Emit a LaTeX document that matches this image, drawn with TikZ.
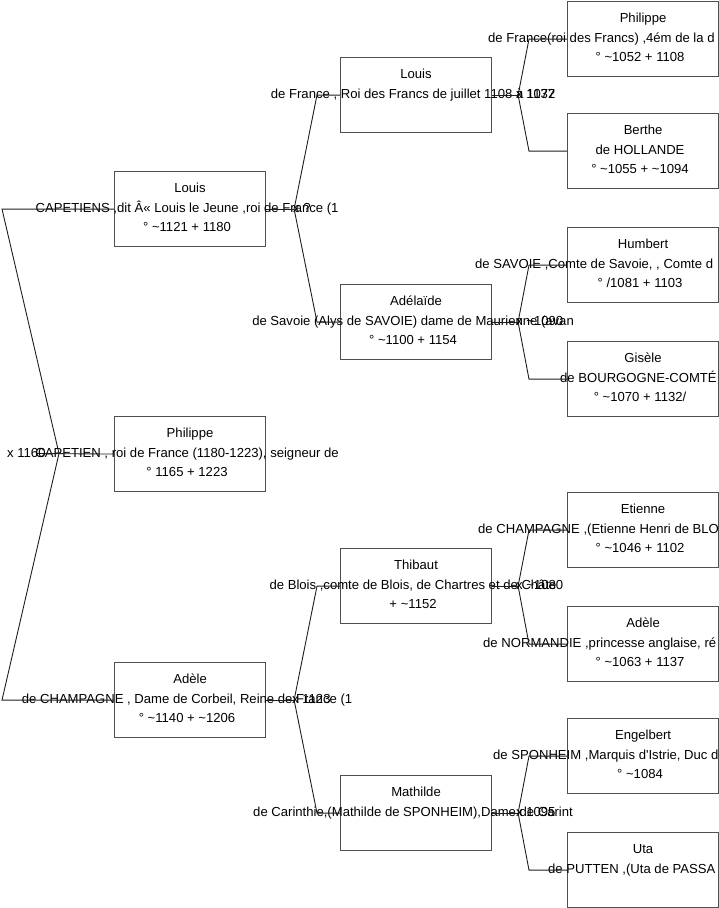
\documentclass[tikz,border=0pt]{standalone}
\usepackage{fontspec}
\setmainfont{Liberation Sans}
\usetikzlibrary{calc}
\definecolor{boxgray}{RGB}{80,80,80}
\definecolor{linegray}{RGB}{30,30,30}
\newcommand\tld{\textasciitilde}
\newcommand\pbox[4]{%
  \node[box] (#1) at (#2,#3) {};
  \node[txt] (#1-a) at ($(#1.north)+(0,21)$) {#4};
}
\newcommand\pline[3]{% name, suffix/offset, text
  \node[txt] (#1-#2) at ($(#1.north)+(-3,\csname off#2\endcsname)$) {#3};
}
\newcommand\plinew[3]{% name, x, text (middle line, left anchored)
  \coordinate (#1-bx) at (#2,0);
  \path ($(#1.north)+(0,41)$) coordinate (#1-by);
  \node[txtw] (#1-b) at (#1-by -| #1-bx) {#3};
}
\def\offb{41}
\def\offc{60}
\begin{document}
\begin{tikzpicture}[x=1pt,y=-1pt,
  box/.style={draw=boxgray, line width=1.1pt, minimum width=151pt, minimum height=75pt, inner sep=0pt, anchor=north west},
  txt/.style={inner sep=0pt, anchor=base, font=\fontsize{13.1}{15}\selectfont},
  txtw/.style={txt, anchor=base west},
  conn/.style={draw=linegray, line width=0.9pt}]
\useasboundingbox (0,0) rectangle (719,908);

% generation 1
\pbox{louisA}{114}{171}{Louis}
\pline{louisA}{b}{CAPETIENS ,dit Â« Louis le Jeune ,roi de France (1}
\pline{louisA}{c}{° \tld1121 + 1180}
\pbox{philA}{114}{416}{Philippe}
\pline{philA}{b}{CAPETIEN , roi de France (1180-1223), seigneur de}
\pline{philA}{c}{° 1165 + 1223}
\pbox{adeleA}{114}{662}{Adèle}
\pline{adeleA}{b}{de CHAMPAGNE , Dame de Corbeil, Reine de France (1}
\pline{adeleA}{c}{° \tld1140 + \tld1206}

% generation 2
\pbox{louisB}{340}{57}{Louis}
\pline{louisB}{b}{de France , Roi des Francs de juillet 1108 à 1137}
\pbox{adelaideB}{340}{284}{Adélaïde}
\pline{adelaideB}{b}{de Savoie (Alys de SAVOIE) dame de Maurienne (avan}
\pline{adelaideB}{c}{° \tld1100 + 1154}
\pbox{thibautB}{340}{548}{Thibaut}
\pline{thibautB}{b}{de Blois ,comte de Blois, de Chartres et de Châte}
\pline{thibautB}{c}{+ \tld1152}
\pbox{mathildeB}{340}{775}{Mathilde}
\pline{mathildeB}{b}{de Carinthie,(Mathilde de SPONHEIM),Dame de Carint}

% generation 3
\pbox{philC}{567}{1}{Philippe}
\plinew{philC}{488}{de France(roi des Francs) ,4ém de la d}
\pline{philC}{c}{° \tld1052 + 1108}
\pbox{bertheC}{567}{113}{Berthe}
\pline{bertheC}{b}{de HOLLANDE}
\pline{bertheC}{c}{° \tld1055 + \tld1094}
\pbox{humbertC}{567}{227}{Humbert}
\plinew{humbertC}{475}{de SAVOIE ,Comte de Savoie, , Comte d}
\pline{humbertC}{c}{° /1081 + 1103}
\pbox{giseleC}{567}{341}{Gisèle}
\plinew{giseleC}{560}{de BOURGOGNE-COMTÉ}
\pline{giseleC}{c}{° \tld1070 + 1132/}
\pbox{etienneC}{567}{492}{Etienne}
\plinew{etienneC}{478}{de CHAMPAGNE ,(Etienne Henri de BLO}
\pline{etienneC}{c}{° \tld1046 + 1102}
\pbox{adeleC}{567}{606}{Adèle}
\plinew{adeleC}{483}{de NORMANDIE ,princesse anglaise, ré}
\pline{adeleC}{c}{° \tld1063 + 1137}
\pbox{engelC}{567}{718}{Engelbert}
\plinew{engelC}{493}{de SPONHEIM ,Marquis d\textquotesingle Istrie, Duc d}
\pline{engelC}{c}{° \tld1084}
\pbox{utaC}{567}{832}{Uta}
\plinew{utaC}{548}{de PUTTEN ,(Uta de PASSA}

% connectors: family of Philippe (gen 1)
\coordinate (v0) at (59,453.5);
\path (louisA.west) ++(-112,0) coordinate (e0a);
\path (adeleA.west) ++(-112,0) coordinate (e0b);
\coordinate (h0) at (37,453.5);
\draw[conn] (louisA.west) -- (e0a) -- (v0) -- (e0b) -- (adeleA.west);
\draw[conn] (h0) -- (philA.west);

% gen1 -> gen2
\path (louisA.east) ++(28,0) coordinate (v1);
\path (louisB.west) ++(-23,0) coordinate (e1a);
\path (adelaideB.west) ++(-23,0) coordinate (e1b);
\draw[conn] (louisA.east) -- (v1);
\draw[conn] (louisB.west) -- (e1a) -- (v1) -- (e1b) -- (adelaideB.west);

\path (adeleA.east) ++(28,0) coordinate (v2);
\path (thibautB.west) ++(-23,0) coordinate (e2a);
\path (mathildeB.west) ++(-23,0) coordinate (e2b);
\draw[conn] (adeleA.east) -- (v2);
\draw[conn] (thibautB.west) -- (e2a) -- (v2) -- (e2b) -- (mathildeB.west);

% gen2 -> gen3
\path (louisB.east) ++(26,0) coordinate (v3);
\path (philC.west) ++(-38,0) coordinate (e3a);
\path (bertheC.west) ++(-38,0) coordinate (e3b);
\draw[conn] (louisB.east) -- (v3);
\draw[conn] (philC.west) -- (e3a) -- (v3) -- (e3b) -- (bertheC.west);

\path (adelaideB.east) ++(26,0) coordinate (v4);
\path (humbertC.west) ++(-38,0) coordinate (e4a);
\path (giseleC.west) ++(-38,0) coordinate (e4b);
\draw[conn] (adelaideB.east) -- (v4);
\draw[conn] (humbertC.west) -- (e4a) -- (v4) -- (e4b) -- (giseleC.west);

\path (thibautB.east) ++(26,0) coordinate (v5);
\path (etienneC.west) ++(-38,0) coordinate (e5a);
\path (adeleC.west) ++(-38,0) coordinate (e5b);
\draw[conn] (thibautB.east) -- (v5);
\draw[conn] (etienneC.west) -- (e5a) -- (v5) -- (e5b) -- (adeleC.west);

\path (mathildeB.east) ++(26,0) coordinate (v6);
\path (engelC.west) ++(-38,0) coordinate (e6a);
\path (utaC.west) ++(-38,0) coordinate (e6b);
\draw[conn] (mathildeB.east) -- (v6);
\draw[conn] (engelC.west) -- (e6a) -- (v6) -- (e6b) -- (utaC.west);

% marriage labels
\node[txtw] (m0) at (7,457) {x 1160};
\node[txtw] (m1) at (293,212) {x ?};
\node[txtw] (m2) at (292,703) {x 1123};
\node[txtw] (m3) at (516,98) {x 1072};
\node[txtw] (m4) at (516,325) {x \tld1090};
\node[txtw] (m5) at (516,589) {x \tld1080};
\node[txtw] (m6) at (516,816) {x 1095};
\end{tikzpicture}
\end{document}
